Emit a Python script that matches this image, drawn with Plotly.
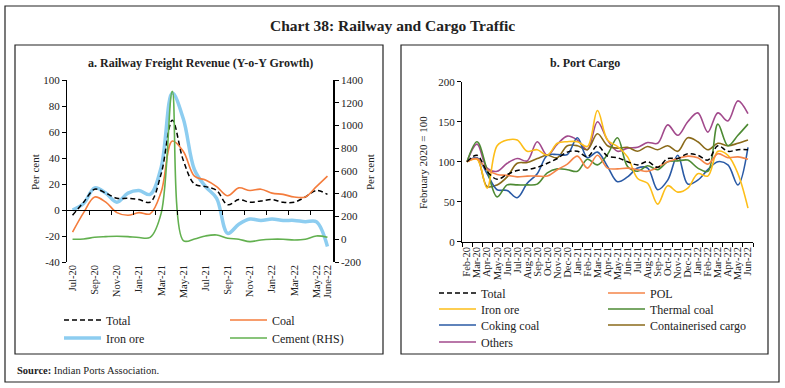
import plotly.graph_objects as go

# ---------------- data ----------------
months_a = ['Jul-20', 'Aug-20', 'Sep-20', 'Oct-20', 'Nov-20', 'Dec-20', 'Jan-21', 'Feb-21',
            'Mar-21', 'Apr-21', 'May-21', 'Jun-21', 'Jul-21', 'Aug-21', 'Sep-21', 'Oct-21',
            'Nov-21', 'Dec-21', 'Jan-22', 'Feb-22', 'Mar-22', 'Apr-22', 'May-22', 'Jun-22']
ticklabels_a = ['Jul-20', 'Sep-20', 'Nov-20', 'Jan-21', 'Mar-21', 'May-21', 'Jul-21', 'Sep-21',
                'Nov-21', 'Jan-22', 'Mar-22', 'May-22', 'June-22']
total_a = [-4, 6, 16, 13, 9, 9, 8, 6, 28, 69, 38, 20, 18, 15, 4, 8, 6, 7, 8, 6, 6, 10, 15, 12]
coal_a = [-17, -2, 10, 6, -2, -4, -2, -3, 14, 53, 45, 26, 23, 18, 11, 17, 15, 16, 13, 12, 10, 10, 18, 26]
iron_a = [0, 5, 17, 13, 6, 13, 15, 12, 33, 90, 70, 31, 18, 9, -18, -11, -7, -8, -7, -8, -8, -9, -9, -28]
cement_a = [0, 2, 17, 23, 27, 23, 15, 17, 230, 1300, -12, 2, 29, 38, 9, 0, -21, -6, 0, 0, -6, 0, 29, 17]
left_ticks_a = [-40, -20, 0, 20, 40, 60, 80, 100]
right_ticks_a = [-200, 0, 200, 400, 600, 800, 1000, 1200, 1400]

months_b = ['Feb-20', 'Mar-20', 'Apr-20', 'May-20', 'Jun-20', 'Jul-20', 'Aug-20', 'Sep-20',
            'Oct-20', 'Nov-20', 'Dec-20', 'Jan-21', 'Feb-21', 'Mar-21', 'Apr-21', 'May-21',
            'Jun-21', 'Jul-21', 'Aug-21', 'Sep-21', 'Oct-21', 'Nov-21', 'Dec-21', 'Jan-22',
            'Feb-22', 'Mar-22', 'Apr-22', 'May-22', 'Jun-22']
total_b = [100, 108, 88, 78, 84, 89, 90, 93, 98, 104, 112, 113, 106, 120, 107, 105, 100, 96, 100,
           93, 104, 104, 110, 108, 102, 120, 113, 115, 115]
pol_b = [100, 104, 90, 84, 83, 81, 82, 82, 82, 90, 97, 107, 92, 108, 92, 91, 92, 90, 88, 93, 100,
         104, 107, 105, 97, 110, 105, 106, 103]
iron_b = [100, 103, 67, 120, 127, 127, 113, 115, 108, 123, 125, 125, 119, 164, 127, 119, 106, 79,
          73, 47, 70, 62, 67, 85, 82, 113, 108, 85, 42]
thermal_b = [100, 125, 90, 56, 71, 71, 71, 72, 86, 91, 90, 88, 103, 96, 109, 130, 94, 88, 95, 90,
             100, 101, 102, 92, 88, 147, 120, 133, 147]
coking_b = [100, 105, 85, 65, 64, 55, 73, 85, 108, 109, 109, 130, 105, 112, 94, 75, 81, 92, 92, 65,
            77, 108, 72, 77, 90, 100, 96, 71, 118]
container_b = [100, 104, 69, 71, 81, 98, 99, 104, 108, 105, 120, 120, 115, 135, 120, 117, 118, 113,
               119, 115, 120, 113, 130, 125, 115, 123, 120, 123, 127]
others_b = [100, 122, 92, 88, 98, 104, 101, 125, 108, 122, 132, 127, 115, 150, 127, 113, 117, 118,
            124, 123, 146, 133, 150, 161, 137, 161, 151, 176, 160]
ticks_b = [0, 50, 100, 150, 200]

# ---------------- layout helpers ----------------
W, H = 785, 388
FONT = 'Liberation Serif'


def fx(px):
    return px / W


def fy(py):
    return 1 - py / H


fig = go.Figure()

# ---------- panel a ----------
fig.add_trace(go.Scatter(x=months_a, y=iron_a, name='Iron ore', mode='lines', line_shape='spline',
                         line=dict(color='#8DCDF0', width=3.5), xaxis='x', yaxis='y', legend='legend2'))
fig.add_trace(go.Scatter(x=months_a, y=total_a, name='Total', mode='lines', line_shape='spline',
                         line=dict(color='black', width=1.5, dash='5px,3px'), xaxis='x', yaxis='y',
                         legend='legend'))
fig.add_trace(go.Scatter(x=months_a, y=coal_a, name='Coal', mode='lines', line_shape='spline',
                         line=dict(color='#F47C3C', width=1.6), xaxis='x', yaxis='y', legend='legend'))
fig.add_trace(go.Scatter(x=months_a, y=cement_a, name='Cement (RHS)', mode='lines', line_shape='spline',
                         line=dict(color='#62B04F', width=1.6), xaxis='x', yaxis='y2', legend='legend2'))
# helper trace so the zero-line axis is drawn
fig.add_trace(go.Scatter(x=[None], y=[None], xaxis='x3', yaxis='y', showlegend=False, hoverinfo='skip'))

# ---------- panel b ----------
b_series = [
    ('Total', total_b, 'black', 'legend3', '5px,3px'),
    ('POL', pol_b, '#F58549', 'legend3', None),
    ('Iron ore', iron_b, '#FDBE19', 'legend4', None),
    ('Thermal coal', thermal_b, '#4D8A33', 'legend4', None),
    ('Coking coal', coking_b, '#2A5AA5', 'legend5', None),
    ('Containerised cargo', container_b, '#8A6A1A', 'legend5', None),
    ('Others', others_b, '#A24A8C', 'legend6', None),
]
draw_order = [6, 5, 4, 3, 2, 1, 0]
for idx in draw_order:
    name, vals, col, leg, dash = b_series[idx]
    ln = dict(color=col, width=1.6)
    if dash:
        ln['dash'] = dash
        ln['width'] = 1.5
    fig.add_trace(go.Scatter(x=months_b, y=vals, name=name, mode='lines', line_shape='spline',
                             line=ln, xaxis='x2', yaxis='y3', legend=leg,
                             legendrank=idx + 1))

# ---------- axes ----------
axis_font = dict(family=FONT, size=11, color='#222')
xa_dom = [fx(67), fx(333)]
ya_dom = [fy(262), fy(80)]
xb_dom = [fx(462), fx(753)]
yb_dom = [fy(241.7), fy(81.7)]
ya_range = [left_ticks_a[0], left_ticks_a[-1]]
zero_pos = ya_dom[0] + (0 - ya_range[0]) / (ya_range[1] - ya_range[0]) * (ya_dom[1] - ya_dom[0])

fig.update_layout(
    width=W, height=H,
    margin=dict(l=0, r=0, t=0, b=0),
    paper_bgcolor='white', plot_bgcolor='rgba(0,0,0,0)',
    font=dict(family=FONT, size=11, color='#222'),
    xaxis=dict(domain=xa_dom, anchor='y', type='category', range=[-0.5, len(months_a) - 0.5],
               tickmode='array', tickvals=months_a[::2] + [months_a[-1]], ticktext=ticklabels_a,
               tickangle=-90, tickfont=dict(family=FONT, size=10.5, color='#222'), showline=False,
               ticks='', showgrid=False, zeroline=False, automargin=False),
    xaxis3=dict(overlaying='x', anchor='free', position=zero_pos, type='linear',
                range=[-0.5, len(months_a) - 0.5],
                tickmode='array', tickvals=[k + 0.5 for k in range(1, len(months_a) - 2, 2)],
                showticklabels=False, ticks='outside', ticklen=4, tickcolor='black', tickwidth=1,
                showline=True, linecolor='black', linewidth=1, showgrid=False, zeroline=False,
                automargin=False),
    yaxis=dict(domain=ya_dom, anchor='x', range=ya_range, tickmode='array', tickvals=left_ticks_a,
               ticktext=[str(v) for v in left_ticks_a], tickfont=axis_font, ticks='outside',
               ticklen=4, tickcolor='black', showline=True, linecolor='black', linewidth=1,
               showgrid=False, zeroline=False, automargin=False),
    yaxis2=dict(overlaying='y', side='right', anchor='x', range=[right_ticks_a[0], right_ticks_a[-1]],
                tickmode='array', tickvals=right_ticks_a, ticktext=[str(v) for v in right_ticks_a],
                tickfont=axis_font, ticks='outside', ticklen=4, tickcolor='black', showline=True,
                linecolor='black', linewidth=1.5, showgrid=False, zeroline=False, automargin=False),
    xaxis2=dict(domain=xb_dom, anchor='y3', type='category', range=[-0.5, len(months_b) - 0.5],
                tickmode='array', tickvals=months_b, ticktext=months_b, tickson='boundaries',
                tickangle=-90, tickfont=dict(family=FONT, size=10.5, color='#222'), ticks='outside',
                ticklen=4, tickcolor='black', showline=True, linecolor='black', linewidth=1,
                showgrid=False, zeroline=False, automargin=False),
    yaxis3=dict(domain=yb_dom, anchor='x2', range=[ticks_b[0], ticks_b[-1]], tickmode='array',
                tickvals=ticks_b, ticktext=[str(v) for v in ticks_b], tickfont=axis_font,
                ticks='outside', ticklen=4, tickcolor='black', showline=True, linecolor='black',
                linewidth=1, showgrid=False, zeroline=False, automargin=False),
)


def legend_row(xpx, ypx, entry):
    return dict(orientation='h', x=fx(xpx), y=fy(ypx), xanchor='left', yanchor='middle',
                entrywidth=entry, entrywidthmode='pixels', bgcolor='rgba(0,0,0,0)', borderwidth=0,
                font=dict(family=FONT, size=12, color='#222'), tracegroupgap=0, itemwidth=37,
                traceorder='normal')


fig.update_layout(
    legend=legend_row(59, 320, 114),
    legend2=legend_row(59, 338, 114),
    legend3=legend_row(434, 293, 117),
    legend4=legend_row(434, 309, 117),
    legend5=legend_row(434, 325, 117),
    legend6=legend_row(434, 342, 117),
)

# ---------- frames ----------
frame = dict(type='rect', xref='paper', yref='paper', fillcolor='rgba(0,0,0,0)', layer='below')
fig.add_shape(**frame, x0=fx(5), x1=fx(779), y0=fy(382), y1=fy(6), line=dict(color='#222', width=1.2))
fig.add_shape(**frame, x0=fx(15), x1=fx(383), y0=fy(354), y1=fy(45), line=dict(color='#222', width=1.2))
fig.add_shape(**frame, x0=fx(401), x1=fx(768), y0=fy(354), y1=fy(45), line=dict(color='#222', width=1.2))


# ---------- texts ----------
def note(text, xpx, ypx, size, bold=False, angle=0, xanchor='center'):
    fig.add_annotation(text=('<b>%s</b>' % text) if bold else text, x=fx(xpx), y=fy(ypx),
                       xref='paper', yref='paper', showarrow=False, textangle=angle,
                       xanchor=xanchor, yanchor='middle',
                       font=dict(family=FONT, size=size, color='#222'))


note('Chart 38: Railway and Cargo Traffic', 392, 26, 15.5, bold=True)
note('a. Railway Freight Revenue (Y-o-Y Growth)', 200, 63, 12, bold=True)
note('b. Port Cargo', 585, 63, 12, bold=True)
note('Per cent', 35, 172, 11, angle=-90)
note('Per cent', 370, 172, 11, angle=-90)
note('February 2020 = 100', 423, 163, 11, angle=-90)
note('<b>Source:</b> Indian Ports Association.', 15, 370, 10.5, xanchor='left')

fig.write_html('out.html', config={'displayModeBar': False},
               post_script="document.body.style.margin='0px';")
